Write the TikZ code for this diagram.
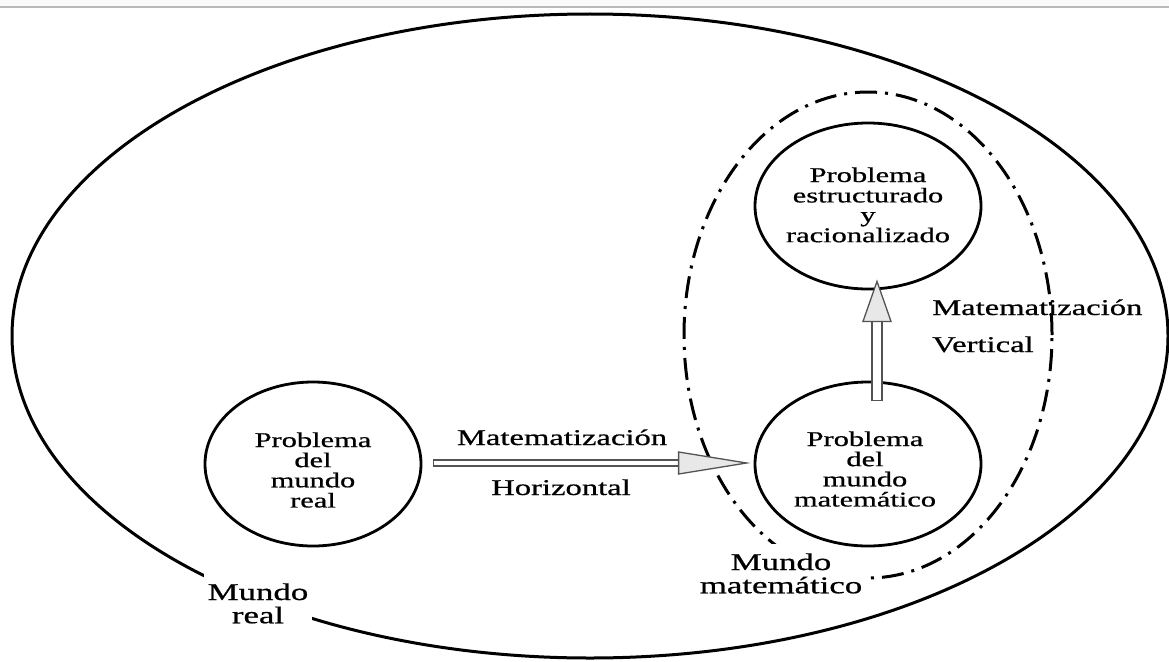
\documentclass[tikz,border=0pt]{standalone}
\usepackage{graphicx}
\usepackage{fontspec}
\setmainfont{Liberation Serif}[FakeBold=0.6]
\usetikzlibrary{shapes.geometric,calc}

% wide serif lettering
\newcommand{\stretchtext}[1]{\scalebox{1.45}[1]{#1}}
\newcommand{\stacked}[1]{\stretchtext{\begin{tabular}[t]{@{}c@{}}#1\end{tabular}}}

\begin{document}
\begin{tikzpicture}[x=1pt,y=-1pt,
  region/.style={draw, ellipse, line width=3pt, inner sep=0pt},
  mathregion/.style={draw, ellipse, line width=3pt, inner sep=0pt,
    dash pattern=on 22pt off 8pt on 3pt off 8pt},
  bubble/.style={draw, ellipse, line width=2.8pt, inner sep=0pt},
  innertext/.style={anchor=base, inner sep=0pt, font=\fontsize{21}{18.6}\selectfont},
  steplabel/.style={inner sep=0pt, font=\fontsize{22.5}{26}\selectfont},
  worldlabel/.style={anchor=base, fill=white, inner xsep=4pt, inner ysep=9pt,
    font=\fontsize{24}{22}\selectfont},
  arrowbody/.style={draw=gray!65!black, fill=white, line width=1.3pt},
  arrowhead/.style={draw=gray!65!black, fill=gray!18, line width=1.3pt, line join=miter}]

\useasboundingbox (0,0) rectangle (1169,661);

% page header strip
\fill[gray!4] (0,0) rectangle (1169,6);
\draw[gray!55, line width=1.5pt] (0,7) -- (1169,7);

% regions
\node[region, minimum width=1156pt, minimum height=644pt] (world) at (590,336) {};
\node[mathregion, minimum width=368pt, minimum height=486pt] (mathworld) at (868,335) {};

% region names, masking the outlines behind them
\node[worldlabel] (realname) at (258,600) {\stacked{Mundo\\real}};
\node[worldlabel] (mathname) at (781,570) {\stacked{Mundo\\matemático}};

% problems
\node[bubble, minimum width=216pt, minimum height=164pt] (real) at (313,464) {};
\node[bubble, minimum width=226pt, minimum height=164pt] (math) at (868,464) {};
\node[bubble, minimum width=226pt, minimum height=166pt] (struct) at (868,206) {};

\node[innertext] (realtext) at ($(real.center)+(0,-17)$) {\stacked{Problema\\del\\mundo\\real}};
\node[innertext] (mathtext) at ($(math.center)+(-3,-18)$) {\stacked{Problema\\del\\mundo\\matemático}};
\node[innertext, font=\fontsize{21}{19.4}\selectfont] (structtext) at ($(struct.center)+(0,-24)$)
  {\stacked{Problema\\estructurado\\y\\racionalizado}};

% horizontal mathematization arrow
\coordinate (hs) at ($(real.east)+(11,-1)$);
\coordinate (ht) at ($(math.west)+(-7,-1)$);
\draw[arrowbody] ($(hs)+(0,-3)$) -- ($(ht)+(-68,-3)$) -- ($(ht)+(-68,3)$) -- ($(hs)+(0,3)$) -- cycle;
\draw[arrowhead] ($(ht)+(-68,-11)$) -- (ht) -- ($(ht)+(-68,11)$) -- cycle;

% vertical mathematization arrow
\coordinate (vs) at ($(math.north)+(9,20)$);
\coordinate (vt) at ($(struct.south)+(9,-9)$);
\draw[arrowbody] ($(vs)+(-5,0)$) -- ($(vt)+(-5,40)$) -- ($(vt)+(5,40)$) -- ($(vs)+(5,0)$) -- cycle;
\draw[arrowhead] ($(vt)+(-14,40)$) -- (vt) -- ($(vt)+(14,40)$) -- cycle;

% arrow labels
\node[steplabel, anchor=base] (hlab1) at (562,445) {\stretchtext{Matematización}};
\node[steplabel, anchor=base] (hlab2) at (561,495) {\stretchtext{Horizontal}};
\node[steplabel, anchor=base west] (vlab1) at (932,315) {\stretchtext{Matematización}};
\node[steplabel, anchor=base west] (vlab2) at (932,352) {\stretchtext{Vertical}};

\end{tikzpicture}
\end{document}
